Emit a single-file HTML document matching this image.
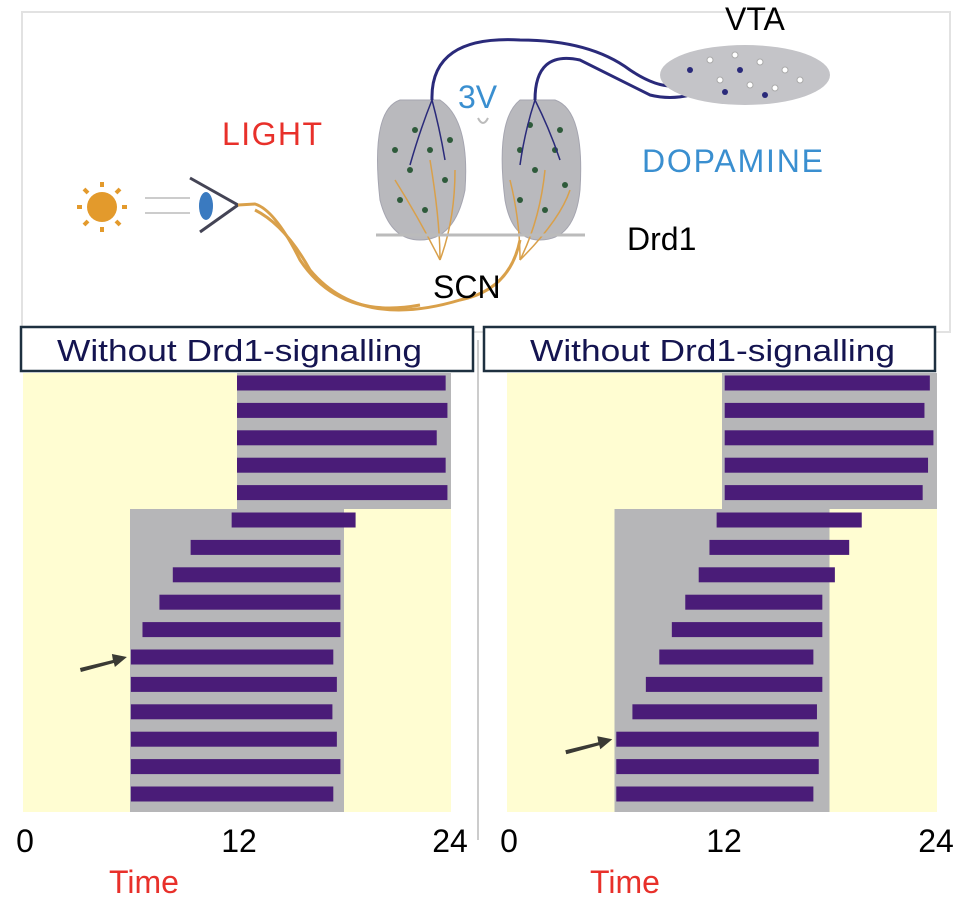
<!DOCTYPE html>
<html><head><meta charset="utf-8">
<style>
html,body{margin:0;padding:0;background:#fff;}
svg{display:block;font-family:"Liberation Sans",Arial,sans-serif;}
</style></head>
<body>
<svg id="fig" width="969" height="908" viewBox="0 0 969 908" xmlns="http://www.w3.org/2000/svg">
  <g>
    <rect x="22" y="12" width="928" height="320" fill="#fff" stroke="#e2e2e2" stroke-width="2"/>
    <g>
      <circle cx="102" cy="207" r="15" fill="#e39a2c"/>
      <g stroke="#e39a2c" stroke-width="4">
        <line x1="102" y1="182" x2="102" y2="187"/><line x1="102" y1="227" x2="102" y2="232"/>
        <line x1="77" y1="207" x2="82" y2="207"/><line x1="122" y1="207" x2="127" y2="207"/>
        <line x1="84" y1="189" x2="88" y2="193"/><line x1="116" y1="221" x2="120" y2="225"/>
        <line x1="84" y1="225" x2="88" y2="221"/><line x1="116" y1="193" x2="120" y2="189"/>
      </g>
    </g>
    <g>
      <line x1="145" y1="198" x2="190" y2="198" stroke="#ccc" stroke-width="2"/>
      <line x1="145" y1="213" x2="190" y2="213" stroke="#ccc" stroke-width="2"/>
      <path d="M190 178 L238 205 L200 232" fill="none" stroke="#445" stroke-width="3"/>
      <ellipse cx="206" cy="206" rx="7" ry="14" fill="#3a7ac0"/>
      <path d="M238 205 L255 204 Q275 210 300 260 Q340 320 420 305" fill="none" stroke="#d9a04a" stroke-width="3"/>
    </g>
    <path d="M255 210 Q285 225 310 270 Q360 330 460 300 Q510 290 520 240" fill="none" stroke="#d9a04a" stroke-width="3"/>
    <g>
      <path d="M400 100 Q370 110 380 200 Q390 240 420 240 Q455 240 465 190 Q470 120 440 100 Z" fill="#b9b9bd" stroke="#a5a5b0"/>
      <path d="M520 100 Q495 120 505 200 Q512 240 540 240 Q575 240 580 190 Q585 110 555 100 Z" fill="#b9b9bd" stroke="#a5a5b0"/>
      <g fill="#2e5a3a">
        <circle cx="395" cy="150" r="3"/><circle cx="410" cy="170" r="3"/><circle cx="430" cy="150" r="3"/><circle cx="445" cy="180" r="3"/><circle cx="400" cy="200" r="3"/><circle cx="425" cy="210" r="3"/><circle cx="450" cy="140" r="3"/><circle cx="415" cy="130" r="3"/>
        <circle cx="520" cy="150" r="3"/><circle cx="535" cy="170" r="3"/><circle cx="555" cy="150" r="3"/><circle cx="565" cy="185" r="3"/><circle cx="520" cy="200" r="3"/><circle cx="545" cy="210" r="3"/><circle cx="560" cy="130" r="3"/><circle cx="530" cy="125" r="3"/>
      </g>
      <g fill="none" stroke="#d9a04a" stroke-width="1.5">
        <path d="M440 260 Q420 220 395 180"/><path d="M440 260 Q440 220 430 160"/><path d="M440 260 Q455 220 455 170"/>
        <path d="M520 260 Q520 220 510 180"/><path d="M520 260 Q540 220 545 170"/><path d="M520 260 Q560 220 570 190"/>
      </g>
      <path d="M376 235 L585 235" stroke="#bbb" stroke-width="3"/>
    </g>
    <g fill="none" stroke="#2a2a7a" stroke-width="3">
      <path d="M432 100 Q430 35 520 40 Q590 40 630 70 Q660 90 680 85"/>
      <path d="M535 100 Q535 50 580 60 Q620 80 650 95 Q670 100 690 95"/>
      <path d="M432 100 Q420 130 410 165" stroke-width="1.5"/><path d="M432 100 Q440 130 445 160" stroke-width="1.5"/>
      <path d="M535 100 Q525 130 520 165" stroke-width="1.5"/><path d="M535 100 Q550 130 560 160" stroke-width="1.5"/>
    </g>
    <path d="M478 118 Q483 128 488 118" fill="none" stroke="#bbb" stroke-width="2"/>
    <g>
      <ellipse cx="745" cy="75" rx="85" ry="30" fill="#c4c4c8"/>
      <g fill="#fff" stroke="#aaa"><circle cx="710" cy="60" r="3"/><circle cx="735" cy="55" r="3"/><circle cx="760" cy="62" r="3"/><circle cx="785" cy="70" r="3"/><circle cx="720" cy="80" r="3"/><circle cx="750" cy="85" r="3"/><circle cx="775" cy="88" r="3"/><circle cx="800" cy="80" r="3"/></g>
      <g fill="#2a2a7a"><circle cx="690" cy="70" r="3"/><circle cx="740" cy="70" r="3"/><circle cx="765" cy="95" r="3"/><circle cx="725" cy="92" r="3"/></g>
    </g>
    <text x="222" y="145" font-size="32" textLength="100" fill="#e8302a">LIGHT</text>
    <text x="458" y="108" font-size="32" fill="#3a8fd0">3V</text>
    <text x="642" y="172" font-size="32" textLength="181" fill="#3a8fd0">DOPAMINE</text>
    <text x="627" y="250" font-size="32" fill="#000">Drd1</text>
    <text x="433" y="298" font-size="32" fill="#000">SCN</text>
    <text x="725" y="30" font-size="32" fill="#000">VTA</text>
  </g>
  <line x1="478" y1="340" x2="478" y2="840" stroke="#ccc" stroke-width="2"/>
  <g id="panels"></g>
</svg>
<script>
const hours = [0, 12, 24];
const leftTopStart = [12, 12, 12, 12, 12];
const leftTopEnd = [23.7, 23.8, 23.2, 23.7, 23.8];
const leftLowStart = [11.7, 9.4, 8.4, 7.65, 6.7, 6.05, 6.05, 6.05, 6.05, 6.05, 6.05];
const leftLowEnd = [18.65, 17.8, 17.8, 17.8, 17.8, 17.4, 17.6, 17.35, 17.6, 17.8, 17.4];
const rightTopStart = [12.15, 12.15, 12.15, 12.15, 12.15];
const rightTopEnd = [23.6, 23.3, 23.8, 23.5, 23.2];
const rightLowStart = [11.7, 11.3, 10.7, 9.95, 9.2, 8.5, 7.75, 7.0, 6.1, 6.1, 6.1];
const rightLowEnd = [19.8, 19.1, 18.3, 17.6, 17.6, 17.1, 17.6, 17.3, 17.4, 17.4, 17.1];
const leftArrowRow = 5;
const rightArrowRow = 8;
const NS = "http://www.w3.org/2000/svg";
const root = document.getElementById('panels');
function mk(tag, attrs, parent){const e=document.createElementNS(NS,tag);for(const k in attrs)e.setAttribute(k,attrs[k]);parent.appendChild(e);return e;}
function panel(name, x0, x1, topS, topE, lowS, lowE, arrowRow, boxX, boxW, titleX, timeX){
  const g = mk('g',{},root);
  
  
  const xs = t => x0 + (x1 - x0) * t / 24;
  const yTop = 373, yMid = 509, yBot = 812;
  const bg = mk('rect',{x:x0,y:yTop,width:x1-x0,height:yBot-yTop,fill:'#fffdd2'},g);
  
  
  const g1 = mk('rect',{x:xs(12),y:yTop,width:xs(24)-xs(12),height:yMid-yTop,fill:'#b6b6b8'},g);
  
  
  const g2 = mk('rect',{x:xs(6),y:yMid,width:xs(18)-xs(6),height:yBot-yMid,fill:'#b6b6b8'},g);
  
  
  const pitch = 27.4, bh = 15;
  const rowY = i => 383 + i * pitch;
  topS.forEach((s,i)=>{
    const r = mk('rect',{x:xs(s),y:rowY(i)-bh/2,width:xs(topE[i])-xs(s),height:bh,fill:'#4a1c78'},g);
    
    
  });
  lowS.forEach((s,i)=>{
    const r = mk('rect',{x:xs(s),y:rowY(i+5)-bh/2,width:xs(lowE[i])-xs(s),height:bh,fill:'#4a1c78'},g);
    
    
  });
  const ay = rowY(arrowRow+5), ax = xs(lowS[arrowRow]) - 4;
  const ar = mk('path',{d:`M${ax-47} ${ay+11} L${ax-14} ${ay+3} L${ax-15} ${ay-3} L${ax} ${ay} L${ax-12} ${ay+10} L${ax-13} ${ay+6} L${ax-46} ${ay+15} Z`,fill:'#3a3a34'},g);
  
  
  const box = mk('rect',{x:boxX,y:327,width:boxW,height:44,fill:'#fff',stroke:'#1e3040','stroke-width':2.5},g);
  
  
  const tt = mk('text',{x:titleX,y:361,'font-size':31,fill:'#141450',textLength:365,lengthAdjust:'spacingAndGlyphs'},g);
  tt.textContent = 'Without Drd1-signalling';
  
  
  hours.forEach(h=>{
    const t = mk('text',{x:xs(h)+(h===0?2:h===24?-1:2),y:852,'font-size':32,fill:'#000','text-anchor':'middle'},g);
    t.textContent = String(h);
    
    
  });
  const xt = mk('text',{x:timeX,y:893,'font-size':32,fill:'#e8302a','text-anchor':'middle'},g);
  xt.textContent = 'Time';
  
  
}
panel('left-actogram', 23, 451, leftTopStart, leftTopEnd, leftLowStart, leftLowEnd, leftArrowRow, 21, 452, 57, 144);
panel('right-actogram', 507, 937, rightTopStart, rightTopEnd, rightLowStart, rightLowEnd, rightArrowRow, 484, 451, 530, 625);
</script>
</body></html>
